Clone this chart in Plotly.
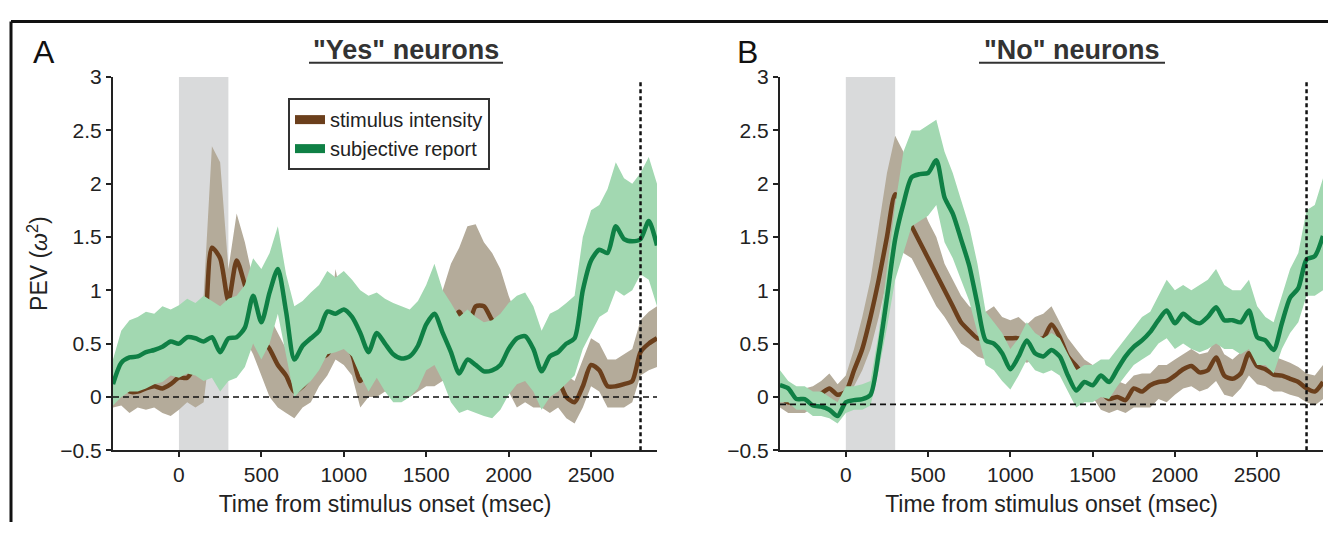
import plotly.graph_objects as go

# ---------------- data ----------------
TIME = list(range(-400, 2901, 50))  # msec, sampling grid

# Panel A  ("Yes" neurons)
A_STIM_MEAN = [0.10, 0.15, 0.05, 0.05, 0.08, 0.10, 0.08, 0.12, 0.18, 0.18,
               0.30, 0.50, 1.40, 1.30, 0.90, 1.28, 1.05, 0.80, 0.55, 0.45,
               0.30, 0.20, 0.05, 0.10, 0.20, 0.35, 0.40, 0.50, 0.50, 0.40,
               0.15, 0.25, 0.30, 0.35, 0.30, 0.35, 0.30, 0.35, 0.40, 0.45,
               0.55, 0.65, 0.80, 0.65, 0.85, 0.85, 0.72, 0.65, 0.50, 0.45,
               0.35, 0.30, 0.25, 0.15, 0.15, 0.00, -0.05, 0.10, 0.30, 0.25,
               0.10, 0.10, 0.12, 0.15, 0.42, 0.50, 0.55]
A_STIM_HI = [0.35, 0.45, 0.35, 0.30, 0.35, 0.40, 0.35, 0.45, 0.50, 0.60,
             0.75, 0.95, 2.35, 2.20, 1.20, 1.72, 1.45, 1.10, 0.85, 0.75,
             0.60, 0.45, 0.35, 0.35, 0.45, 0.50, 0.60, 1.20, 0.80, 0.70,
             0.45, 0.50, 0.55, 0.60, 0.60, 0.65, 0.55, 0.65, 0.70, 0.85,
             1.00, 1.25, 1.40, 1.60, 1.62, 1.45, 1.35, 1.20, 0.95, 0.75,
             0.65, 0.60, 0.50, 0.35, 0.35, 0.20, 0.15, 0.35, 0.55, 0.50,
             0.35, 0.35, 0.40, 0.45, 0.72, 0.80, 0.85]
A_STIM_LO = [-0.10, -0.08, -0.15, -0.10, -0.12, -0.10, -0.15, -0.18, -0.12, -0.05,
             -0.10, -0.05, 0.60, 0.70, 0.60, 0.80, 0.55, 0.40, 0.20, 0.00,
             -0.10, -0.15, -0.20, -0.10, -0.05, 0.10, 0.20, 0.35, 0.30, 0.20,
             -0.10, 0.00, 0.00, 0.05, 0.00, 0.05, 0.00, 0.05, 0.10, 0.10,
             0.15, 0.20, 0.30, 0.20, 0.35, 0.35, 0.20, 0.15, 0.05, -0.10,
             -0.05, -0.10, -0.10, -0.15, -0.10, -0.20, -0.25, -0.10, 0.10, 0.05,
             -0.10, -0.10, -0.10, -0.05, 0.20, 0.25, 0.28]
A_SUBJ_MEAN = [0.12, 0.32, 0.37, 0.38, 0.42, 0.44, 0.47, 0.52, 0.50, 0.56,
               0.55, 0.52, 0.56, 0.42, 0.55, 0.56, 0.65, 0.95, 0.70, 0.98,
               1.20, 0.80, 0.35, 0.48, 0.55, 0.62, 0.80, 0.78, 0.82, 0.75,
               0.60, 0.42, 0.60, 0.50, 0.40, 0.36, 0.38, 0.48, 0.68, 0.78,
               0.60, 0.42, 0.22, 0.35, 0.30, 0.24, 0.25, 0.30, 0.45, 0.55,
               0.57, 0.45, 0.24, 0.38, 0.42, 0.50, 0.55, 1.00, 1.28, 1.38,
               1.35, 1.60, 1.48, 1.46, 1.48, 1.65, 1.42]
A_SUBJ_HI = [0.35, 0.62, 0.72, 0.75, 0.80, 0.78, 0.85, 0.82, 0.86, 0.92,
             0.88, 0.95, 0.90, 0.85, 0.92, 0.95, 1.05, 1.30, 1.20, 1.35,
             1.60, 1.15, 0.85, 0.90, 0.98, 1.05, 1.18, 1.12, 1.18, 1.10,
             1.00, 0.95, 0.98, 0.92, 0.88, 0.85, 0.82, 0.90, 1.05, 1.25,
             1.00, 0.88, 0.75, 0.82, 0.75, 0.70, 0.72, 0.78, 0.88, 0.95,
             0.98, 0.85, 0.62, 0.78, 0.82, 0.88, 0.95, 1.50, 1.75, 1.80,
             1.95, 2.20, 2.05, 2.00, 2.10, 2.25, 2.00]
A_SUBJ_LO = [-0.08, 0.00, 0.05, 0.05, 0.08, 0.12, 0.14, 0.20, 0.18, 0.22,
             0.20, 0.15, 0.18, 0.05, 0.15, 0.18, 0.28, 0.50, 0.35, 0.50,
             0.78, 0.40, 0.00, 0.08, 0.15, 0.25, 0.40, 0.42, 0.45, 0.38,
             0.20, 0.05, 0.18, 0.05, -0.05, -0.05, 0.00, 0.08, 0.25, 0.30,
             0.15, -0.05, -0.15, -0.12, -0.15, -0.18, -0.20, -0.12, 0.02, 0.12,
             0.15, 0.05, -0.12, 0.00, 0.05, 0.12, 0.20, 0.45, 0.60, 0.75,
             0.80, 1.00, 0.95, 1.00, 1.15, 1.10, 0.85]

# Panel B  ("No" neurons)
B_STIM_MEAN = [0.00, -0.05, -0.05, -0.05, 0.00, 0.03, 0.08, 0.02, 0.05, 0.25,
               0.45, 0.75, 1.10, 1.50, 1.90, 1.75, 1.60, 1.45, 1.30, 1.15,
               1.00, 0.85, 0.70, 0.62, 0.55, 0.55, 0.55, 0.55, 0.55, 0.55,
               0.50, 0.55, 0.55, 0.68, 0.56, 0.38, 0.29, 0.20, 0.12, 0.05,
               -0.02, 0.00, -0.03, 0.08, 0.05, 0.11, 0.14, 0.15, 0.20, 0.26,
               0.29, 0.23, 0.25, 0.37, 0.20, 0.17, 0.22, 0.41, 0.29, 0.26,
               0.21, 0.20, 0.17, 0.14, 0.08, 0.05, 0.14]
B_STIM_HI = [0.10, 0.05, 0.05, 0.08, 0.10, 0.15, 0.22, 0.12, 0.20, 0.45,
             0.75, 1.10, 1.60, 2.10, 2.45, 2.30, 2.00, 1.85, 1.65, 1.50,
             1.25, 1.10, 0.95, 0.85, 0.80, 0.80, 0.85, 0.75, 0.72, 0.75,
             0.68, 0.75, 0.78, 0.85, 0.70, 0.55, 0.45, 0.35, 0.30, 0.15,
             0.12, 0.15, 0.12, 0.20, 0.22, 0.22, 0.30, 0.30, 0.35, 0.40,
             0.45, 0.40, 0.42, 0.55, 0.40, 0.35, 0.42, 0.55, 0.48, 0.42,
             0.38, 0.35, 0.32, 0.28, 0.22, 0.20, 0.30]
B_STIM_LO = [-0.10, -0.15, -0.15, -0.15, -0.10, -0.08, -0.05, -0.10, -0.08, 0.10,
             0.25, 0.45, 0.75, 1.10, 1.50, 1.35, 1.30, 1.15, 1.00, 0.85,
             0.75, 0.62, 0.50, 0.45, 0.38, 0.35, 0.35, 0.35, 0.35, 0.35,
             0.32, 0.35, 0.35, 0.45, 0.40, 0.25, 0.15, 0.05, 0.00, -0.12,
             -0.15, -0.12, -0.15, -0.10, -0.10, -0.10, -0.02, -0.05, 0.02, 0.08,
             0.10, 0.05, 0.08, 0.15, 0.02, 0.00, 0.08, 0.20, 0.12, 0.10,
             0.05, 0.05, 0.02, 0.00, -0.05, -0.08, -0.02]
B_SUBJ_MEAN = [0.11, 0.08, -0.02, -0.02, -0.08, -0.09, -0.12, -0.18, -0.05, -0.03,
               -0.02, 0.02, 0.41, 0.93, 1.48, 1.81, 2.06, 2.09, 2.10, 2.22,
               1.87, 1.72, 1.48, 1.23, 0.87, 0.53, 0.50, 0.41, 0.26, 0.38,
               0.53, 0.41, 0.38, 0.44, 0.38, 0.20, 0.06, 0.14, 0.11, 0.20,
               0.14, 0.26, 0.38, 0.47, 0.53, 0.61, 0.72, 0.81, 0.69, 0.78,
               0.72, 0.69, 0.75, 0.84, 0.72, 0.72, 0.70, 0.81, 0.56, 0.53,
               0.44, 0.69, 0.93, 1.02, 1.29, 1.32, 1.51]
B_SUBJ_HI = [0.25, 0.15, 0.10, 0.10, 0.05, 0.05, 0.00, -0.05, 0.10, 0.10,
             0.12, 0.15, 0.60, 1.20, 1.80, 2.30, 2.50, 2.50, 2.55, 2.60,
             2.30, 2.10, 1.85, 1.60, 1.25, 0.80, 0.70, 0.60, 0.45, 0.55,
             0.70, 0.60, 0.55, 0.60, 0.55, 0.40, 0.25, 0.30, 0.30, 0.35,
             0.35, 0.45, 0.55, 0.65, 0.75, 0.80, 0.95, 1.10, 1.00, 1.05,
             1.00, 1.05, 1.10, 1.20, 1.05, 1.00, 1.00, 1.10, 0.85, 0.75,
             0.70, 0.95, 1.20, 1.35, 1.75, 1.80, 2.05]
B_SUBJ_LO = [-0.05, -0.05, -0.12, -0.12, -0.18, -0.18, -0.20, -0.25, -0.15, -0.12,
             -0.12, -0.08, 0.25, 0.65, 1.10, 1.35, 1.60, 1.65, 1.70, 1.80,
             1.45, 1.30, 1.10, 0.90, 0.60, 0.30, 0.25, 0.15, 0.07, 0.20,
             0.35, 0.25, 0.22, 0.25, 0.20, 0.05, -0.10, -0.05, -0.05, 0.00,
             -0.02, 0.10, 0.20, 0.30, 0.35, 0.40, 0.50, 0.55, 0.45, 0.50,
             0.45, 0.42, 0.45, 0.50, 0.45, 0.45, 0.40, 0.45, 0.30, 0.30,
             0.22, 0.45, 0.60, 0.70, 0.95, 0.95, 1.00]

X_TICKS = [0, 500, 1000, 1500, 2000, 2500]
Y_TICKS = [-0.5, 0, 0.5, 1, 1.5, 2, 2.5, 3]
Y_TICK_TEXT = ["\u22120.5", "0", "0.5", "1", "1.5", "2", "2.5", "3"]
STIM_WINDOW = (0, 300)
RESPONSE_TIME = 2800
BASELINE = {"A": 0.0, "B": -0.07}

# ---------------- style ----------------
W, H = 1328, 533
FONT = "Liberation Sans, Arial, Helvetica, sans-serif"
BROWN = "#6B3F1C"
BROWN_BAND = "#B4AB9A"
GREEN = "#0F8045"
GREEN_BAND = "#A2D8B1"
AX = "#222222"

fig = go.Figure()


def add_panel(xa, ya, smean, slo, shi, gmean, glo, ghi):
    band_x = TIME + TIME[::-1]
    fig.add_trace(go.Scatter(x=band_x, y=shi + slo[::-1], fill="toself",
                             fillcolor=BROWN_BAND, line=dict(width=0),
                             mode="lines", hoverinfo="skip", showlegend=False,
                             xaxis=xa, yaxis=ya))
    fig.add_trace(go.Scatter(x=TIME, y=smean, mode="lines",
                             line=dict(color=BROWN, width=4.5, shape="spline", smoothing=0.7),
                             showlegend=False, xaxis=xa, yaxis=ya))
    fig.add_trace(go.Scatter(x=band_x, y=ghi + glo[::-1], fill="toself",
                             fillcolor=GREEN_BAND, line=dict(width=0),
                             mode="lines", hoverinfo="skip", showlegend=False,
                             xaxis=xa, yaxis=ya))
    fig.add_trace(go.Scatter(x=TIME, y=gmean, mode="lines",
                             line=dict(color=GREEN, width=4.5, shape="spline", smoothing=0.7),
                             showlegend=False, xaxis=xa, yaxis=ya))


add_panel("x", "y", A_STIM_MEAN, A_STIM_LO, A_STIM_HI, A_SUBJ_MEAN, A_SUBJ_LO, A_SUBJ_HI)
add_panel("x2", "y2", B_STIM_MEAN, B_STIM_LO, B_STIM_HI, B_SUBJ_MEAN, B_SUBJ_LO, B_SUBJ_HI)

# legend entries
fig.add_trace(go.Scatter(x=[None], y=[None], mode="lines", name="stimulus intensity",
                         line=dict(color=BROWN, width=9), xaxis="x", yaxis="y"))
fig.add_trace(go.Scatter(x=[None], y=[None], mode="lines", name="subjective report",
                         line=dict(color=GREEN, width=9), xaxis="x", yaxis="y"))

Y_DOM = [1 - 458 / H, 1 - 68 / H]
XA_DOM = [113 / W, 657 / W]
XB_DOM = [780 / W, 1323 / W]


def xaxis(dom, anchor):
    return dict(domain=dom, anchor=anchor, range=[-400, 2900], tickvals=X_TICKS,
                showline=True, linecolor=AX, linewidth=2, ticks="outside",
                ticklen=5, tickwidth=2, tickcolor=AX, showgrid=False,
                zeroline=False, tickfont=dict(size=21, color=AX),
                title=dict(text="Time from stimulus onset (msec)",
                           font=dict(size=23, color=AX), standoff=10))


def yaxis(anchor, title):
    d = dict(domain=Y_DOM, anchor=anchor, range=[-0.5, 3], tickvals=Y_TICKS,
             ticktext=Y_TICK_TEXT, showline=True, linecolor=AX, linewidth=2,
             ticks="outside", ticklen=5, tickwidth=2, tickcolor=AX,
             showgrid=False, zeroline=False, tickfont=dict(size=21, color=AX))
    if title:
        d["title"] = dict(text=title, font=dict(size=23, color=AX), standoff=6)
    return d


shapes = []
for xa, ya, key in (("x", "y", "A"), ("x2", "y2", "B")):
    shapes.append(dict(type="rect", xref=xa, yref=ya, x0=STIM_WINDOW[0], x1=STIM_WINDOW[1],
                       y0=-0.5, y1=3, fillcolor="#D9DADB", line=dict(width=0), layer="below"))
    shapes.append(dict(type="line", xref=xa, yref=ya, x0=-400, x1=2900,
                       y0=BASELINE[key], y1=BASELINE[key],
                       line=dict(color="#111111", width=1.6, dash="6px,4px")))
    shapes.append(dict(type="line", xref=xa, yref=ya, x0=RESPONSE_TIME, x1=RESPONSE_TIME,
                       y0=-0.5, y1=2.97,
                       line=dict(color="#111111", width=2.5, dash="4px,3px")))

# figure frame (top and left)
shapes.append(dict(type="line", xref="paper", yref="paper", x0=11 / W, x1=1,
                   y0=1 - 10 / H, y1=1 - 10 / H, line=dict(color="#111111", width=3)))
shapes.append(dict(type="line", xref="paper", yref="paper", x0=11 / W, x1=11 / W,
                   y0=0, y1=1 - 10 / H, line=dict(color="#111111", width=3)))
# title underlines
shapes.append(dict(type="line", xref="paper", yref="paper", x0=309 / W, x1=503 / W,
                   y0=1 - 53 / H, y1=1 - 53 / H, line=dict(color="#333333", width=2)))
shapes.append(dict(type="line", xref="paper", yref="paper", x0=979 / W, x1=1165 / W,
                   y0=1 - 53 / H, y1=1 - 53 / H, line=dict(color="#333333", width=2)))

annotations = [
    dict(text="A", x=44 / W, y=1 - 42 / H, xref="paper", yref="paper", showarrow=False,
         font=dict(size=32, color="#111111"), xanchor="center", yanchor="middle"),
    dict(text="B", x=747 / W, y=1 - 42 / H, xref="paper", yref="paper", showarrow=False,
         font=dict(size=32, color="#111111"), xanchor="center", yanchor="middle"),
    dict(text="<b>\"Yes\" neurons</b>", x=406 / W, y=1 - 40 / H, xref="paper", yref="paper",
         showarrow=False, font=dict(size=27, color="#333333"), xanchor="center", yanchor="middle"),
    dict(text="<b>\"No\" neurons</b>", x=1072 / W, y=1 - 40 / H, xref="paper", yref="paper",
         showarrow=False, font=dict(size=27, color="#333333"), xanchor="center", yanchor="middle"),
]

fig.update_layout(
    width=W, height=H, margin=dict(l=0, r=0, t=0, b=0),
    paper_bgcolor="white", plot_bgcolor="white",
    font=dict(family=FONT, color=AX),
    xaxis=xaxis(XA_DOM, "y"), yaxis=yaxis("x", "PEV (<i>\u03c9</i><sup>2</sup>)"),
    xaxis2=xaxis(XB_DOM, "y2"), yaxis2=yaxis("x2", None),
    shapes=shapes, annotations=annotations,
    legend=dict(x=288 / W, y=1 - 90 / H, xanchor="left", yanchor="top",
                bgcolor="white", bordercolor="#333333", borderwidth=2,
                font=dict(size=20, color=AX), tracegroupgap=0, itemwidth=30),
    showlegend=True,
)

fig.write_html("out.html")
